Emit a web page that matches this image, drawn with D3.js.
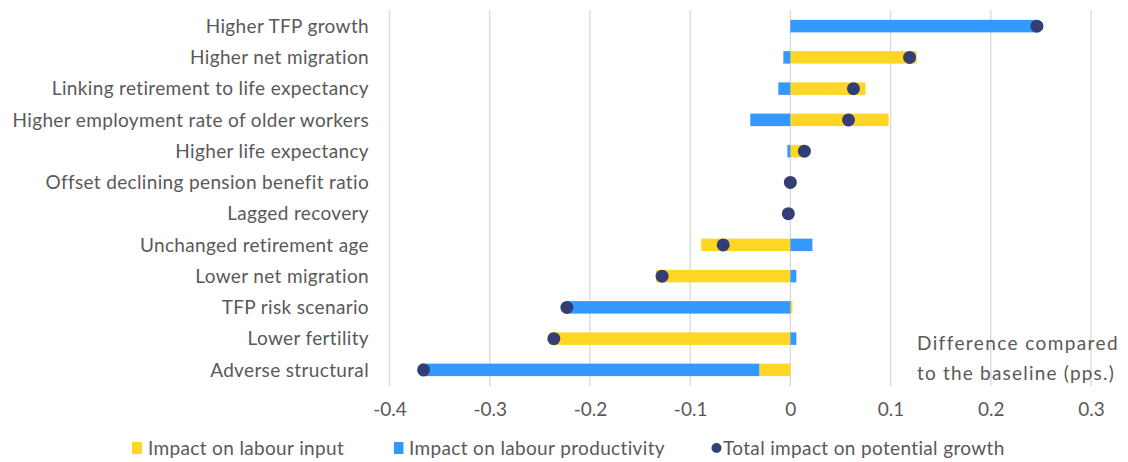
<!DOCTYPE html>
<html><head><meta charset="utf-8">
<script src="https://cdn.jsdelivr.net/npm/d3@7"></script>
<style>body{margin:0;background:#fff}svg{display:block}text{font-family:Lato, "Liberation Sans", sans-serif;fill:#595959}</style>
</head><body>
<svg id="c" width="1128" height="462"></svg>
<script>
const categories = ["Higher TFP growth","Higher net migration","Linking retirement to life expectancy","Higher employment rate of older workers","Higher life expectancy","Offset declining pension benefit ratio","Lagged recovery","Unchanged retirement age","Lower net migration","TFP risk scenario","Lower fertility","Adverse structural"];
const labourInput = [0, 0.126, 0.075, 0.098, 0.016, 0, 0, -0.089, -0.134, 0.002, -0.240, -0.031];
const labourProductivity = [0.245, -0.007, -0.012, -0.040, -0.003, 0, 0, 0.022, 0.006, -0.224, 0.006, -0.338];
const totalImpact = [0.246, 0.119, 0.063, 0.058, 0.014, 0, -0.002, -0.067, -0.128, -0.223, -0.236, -0.366];
const xTicks = [-0.4,-0.3,-0.2,-0.1,0,0.1,0.2,0.3];
const xTickLabels = ["-0.4","-0.3","-0.2","-0.1","0","0.1","0.2","0.3"];
const seriesNames = ["Impact on labour input","Impact on labour productivity","Total impact on potential growth"];
const colors = ["#FFD624","#3399FF","#333F74"];

const FS = "19px", LS = "0.35px";
const svg = d3.select("#c");
const x = d3.scaleLinear().domain([-0.4,0.3]).range([389.5,1091]);
const y = d3.scaleBand().domain(categories).range([10.5,385.5]).paddingInner(0.6).paddingOuter(0.3);

// gridlines
svg.append("g").selectAll("line").data(xTicks).join("line")
  .attr("x1",d=>x(d)).attr("x2",d=>x(d)).attr("y1",10).attr("y2",386)
  .attr("stroke","#D9D9D9").attr("stroke-width",1.3);

const rows = categories.map((c,i)=>({cat:c, input:labourInput[i], prod:labourProductivity[i]}));
const stack = d3.stack().keys(["input","prod"]).offset(d3.stackOffsetDiverging)(rows);
svg.append("g").selectAll("g").data(stack).join("g").attr("fill",(d,i)=>colors[i])
  .selectAll("rect").data(d=>d).join("rect")
  .attr("x",d=>x(Math.min(d[0],d[1]))).attr("width",d=>Math.abs(x(d[1])-x(d[0])))
  .attr("y",d=>y(d.data.cat)).attr("height",y.bandwidth());

svg.append("g").selectAll("circle").data(categories).join("circle")
  .attr("cx",(d,i)=>x(totalImpact[i])).attr("cy",d=>y(d)+y.bandwidth()/2).attr("r",6.5)
  .attr("fill",colors[2]);

// category labels
svg.append("g").selectAll("text").data(categories).join("text")
  .attr("x",369).attr("y",d=>y(d)+y.bandwidth()/2).attr("dy","0.35em")
  .attr("text-anchor","end").style("font-size",FS).style("letter-spacing",LS).text(d=>d);

// x axis labels
const xa = svg.append("g").attr("transform","translate(0,386)").call(d3.axisBottom(x).tickValues(xTicks).tickSize(0).tickPadding(17).tickFormat((d,i)=>xTickLabels[i]));
xa.select(".domain").remove();
xa.selectAll("text").style("font-size",FS).style("font-family","Lato, 'Liberation Sans', sans-serif").attr("fill","#595959");

// annotation
svg.append("text").attr("x",917).attr("y",350).style("font-size",FS).style("letter-spacing","1.4px").text("Difference compared");
svg.append("text").attr("x",917).attr("y",380).style("font-size",FS).style("letter-spacing","1.2px").text("to the baseline (pps.)");

// legend
const lg = svg.append("g");
lg.append("rect").attr("x",132).attr("y",442).attr("width",10).attr("height",12).attr("fill",colors[0]);
lg.append("rect").attr("x",394).attr("y",442).attr("width",9.5).attr("height",12).attr("fill",colors[1]);
lg.append("circle").attr("cx",716.5).attr("cy",448).attr("r",5).attr("fill",colors[2]);
const textX = [148, 409, 723];
seriesNames.forEach((n,i)=>{
  lg.append("text").attr("x",textX[i]).attr("y",448).attr("dy","0.35em").style("font-size",FS).style("letter-spacing",LS).text(n);
});
</script>
</body></html>
